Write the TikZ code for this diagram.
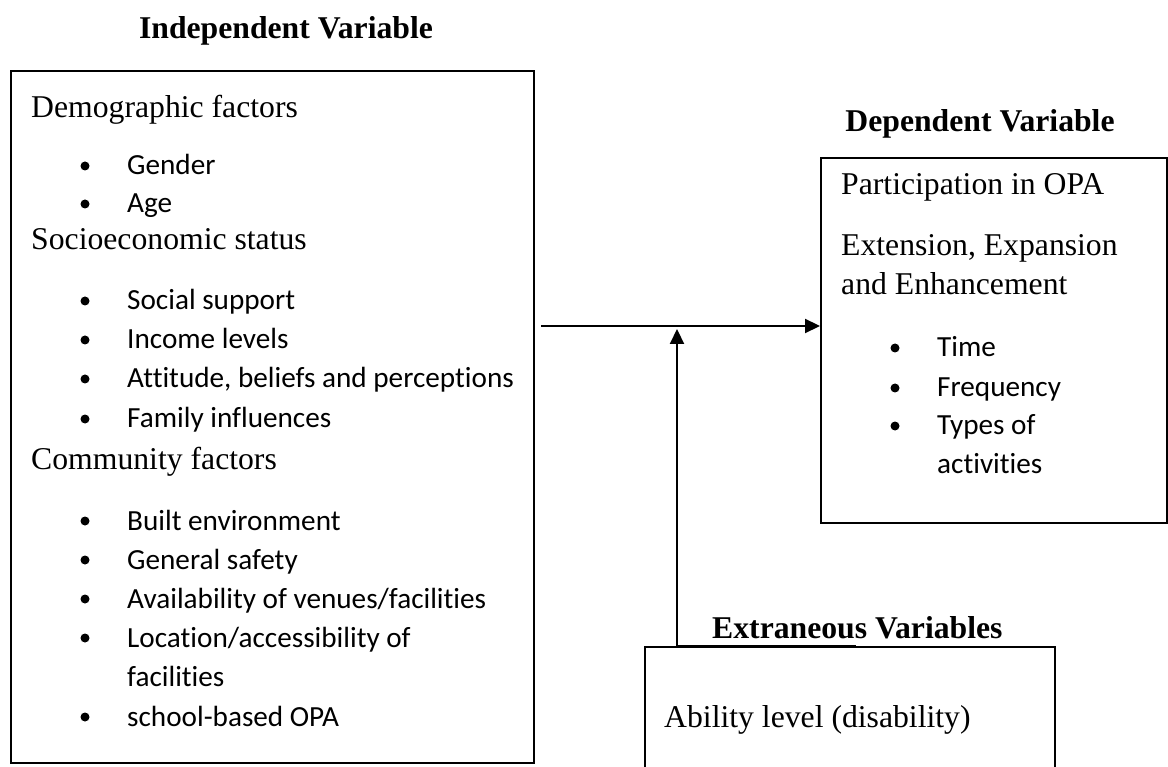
\documentclass[tikz,border=0pt]{standalone}
\usepackage{fontspec}
\setmainfont{Liberation Serif}
\newfontfamily\calfont[Ligatures=NoCommon]{Carlito}
\usetikzlibrary{arrows.meta}
\begin{document}
\begin{tikzpicture}[x=1pt,y=-1pt,
  serif/.style={anchor=base west,inner sep=0pt,font=\fontsize{31.7}{38}\selectfont},
  title/.style={anchor=base,inner sep=0pt,font=\fontsize{31.7}{38}\selectfont\bfseries},
  sans/.style={anchor=base west,inner sep=0pt,font=\calfont\fontsize{29.2}{35}\selectfont},
  dot/.style={circle,fill=black,inner sep=0pt,minimum size=9pt},
  box/.style={draw=black,line width=1.6pt,anchor=north west,inner sep=0pt},
  arr/.style={line width=2.2pt,-{Triangle[length=15pt,width=14pt]}}]
\useasboundingbox (0,0) rectangle (1168,767);

% titles
\node[title] (tiv) at (286,39) {Independent Variable};
\node[title] (tdv) at (980,132) {Dependent Variable};

% left box
\node[box,minimum width=523pt,minimum height=692pt] (ivbox) at (10,70) {};
\node[serif] (h1) at (31,118) {Demographic factors};
\node[dot] (d1) at (85,166) {}; \node[sans] (s1) at (127,175) {Gender};
\node[dot] (d2) at (85,204) {}; \node[sans] (s2) at (127,213) {Age};
\node[serif] (h2) at (31,250) {Socioeconomic status};
\node[dot] (d3) at (85,301) {}; \node[sans] (s3) at (127,310) {Social support};
\node[dot] (d4) at (85,340) {}; \node[sans] (s4) at (127,349) {Income levels};
\node[dot] (d5) at (85,379) {}; \node[sans] (s5) at (127,388) {Attitude, beliefs and perceptions};
\node[dot] (d6) at (85,419) {}; \node[sans] (s6) at (127,428) {Family influences};
\node[serif] (h3) at (31,469) {Community factors};
\node[dot] (d7) at (85,521) {}; \node[sans] (s7) at (127,530) {Built environment};
\node[dot] (d8) at (85,560) {}; \node[sans] (s8) at (127,569) {General safety};
\node[dot] (d9) at (85,599) {}; \node[sans] (s9) at (127,608) {Availability of venues/facilities};
\node[dot] (d10) at (85,638) {}; \node[sans] (s10) at (127,647) {Location/accessibility of};
\node[sans] (s11) at (127,686) {facilities};
\node[dot] (d12) at (85,717) {}; \node[sans] (s12) at (127,726) {school-based OPA};

% right box
\node[box,minimum width=346pt,minimum height=365pt] (dvbox) at (820,157) {};
\node[serif] (r1) at (841,195) {Participation in OPA};
\node[serif] (r2) at (841,256) {Extension, Expansion};
\node[serif] (r3) at (841,295) {and Enhancement};
\node[dot] (e1) at (895,348) {}; \node[sans] (t1) at (937,357) {Time};
\node[dot] (e2) at (895,388) {}; \node[sans] (t2) at (937,397) {Frequency};
\node[dot] (e3) at (895,426) {}; \node[sans] (t3) at (937,435) {Types of};
\node[sans] (t4) at (937,473) {activities};

% extraneous box (runs off the bottom edge)
\coordinate (xbl) at (645,767);
\coordinate (xtl) at (645,647);
\coordinate (xtr) at (1055,647);
\coordinate (xbr) at (1055,767);
\draw[line width=1.6pt] (xbl) -- (xtl) -- (xtr) -- (xbr);
\node[title,anchor=base west] (tev) at (712,638) {Extraneous Variables};
\node[serif] (x1) at (664,727) {Ability level (disability)};

% connectors
\coordinate (hs) at (541,326);
\draw[arr] (hs) -- (hs -| dvbox.west);
\coordinate (vb) at (856,646);
\coordinate (vc) at (677,646);
\coordinate (vt) at (677,329);
\draw[line width=2.2pt] (vb) -- (vc);
\draw[arr] (vc) -- (vt);
\end{tikzpicture}
\end{document}
